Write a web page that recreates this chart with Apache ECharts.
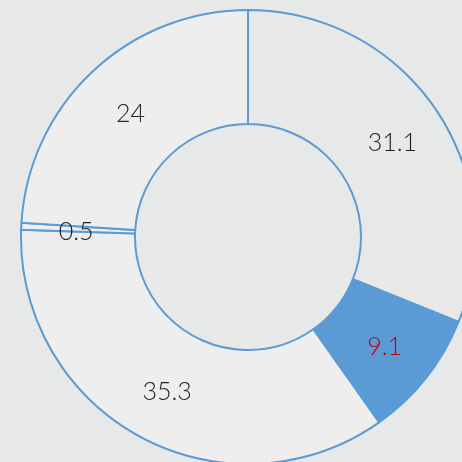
<!DOCTYPE html>
<html>
<head>
<meta charset="utf-8">
<script src="https://cdn.jsdelivr.net/npm/echarts@6/dist/echarts.min.js"></script>
<style>
html,body{margin:0;padding:0;background:#e7e8e8;}
#c{width:462px;height:462px;}
</style>
</head>
<body>
<div id="c"></div>
<script>
var categories = ['A', 'B', 'C', 'D', 'E'];
var values = [31.1, 9.1, 35.3, 0.5, 24];
var fills = ['rgba(0,0,0,0)', '#5b9bd5', '#eeeeee', '#eeeeee', '#eeeeee'];
var labelColors = ['#222222', '#c00000', '#222222', '#222222', '#222222'];

var chart = echarts.init(document.getElementById('c'));
var data = categories.map(function (c, i) {
  return {
    name: c,
    value: values[i],
    itemStyle: { color: fills[i] },
    label: { color: labelColors[i] }
  };
});
chart.setOption({
  backgroundColor: '#e7e8e8',
  animation: false,
  series: [{
    type: 'pie',
    center: [248, 237],
    radius: [113, 227],
    startAngle: 90,
    clockwise: true,
    avoidLabelOverlap: false,
    itemStyle: { borderColor: '#5b9bd5', borderWidth: 2 },
    label: {
      show: true,
      position: 'inside',
      formatter: function (p) { return p.value; },
      fontFamily: 'Lato, "Open Sans", sans-serif',
      fontWeight: 300,
      fontSize: 25,
      offset: [1, 3]
    },
    labelLine: { show: false },
    emphasis: { disabled: true },
    data: data
  }]
});
</script>
</body>
</html>
